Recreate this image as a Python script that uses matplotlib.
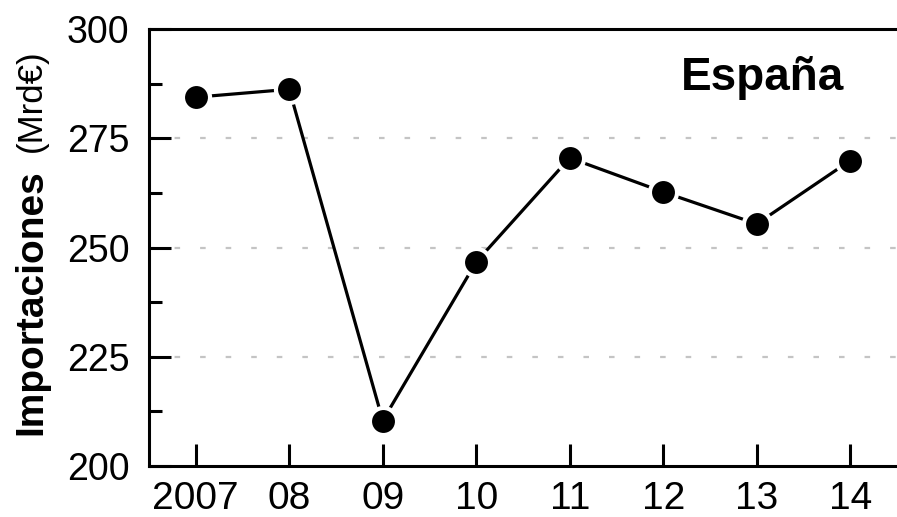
import matplotlib
matplotlib.use("Agg")
import matplotlib.pyplot as plt
from matplotlib.ticker import MultipleLocator

plt.rcParams['font.family'] = ['Liberation Sans', 'DejaVu Sans']

# data
years = ["2007", "08", "09", "10", "11", "12", "13", "14"]
imports = [284.4, 286.2, 210.4, 246.7, 270.5, 262.7, 255.4, 269.9]
grid_levels = [225, 250, 275]

fig = plt.figure(figsize=(8.97, 5.17), dpi=100)
ax = fig.add_axes([149 / 897, 1 - 466 / 517, 1 - 149 / 897, (466 - 29) / 517])

x = list(range(len(years)))
for g in grid_levels:
    ax.axhline(g, color='#c4c4c4', linewidth=1.6, linestyle=(0, (2.5, 9)), zorder=1)

ax.plot(x, imports, color='black', linewidth=2.3, zorder=2)
ax.plot(x, imports, linestyle='none', marker='o', markersize=19.5,
        markerfacecolor='black', markeredgecolor='white', markeredgewidth=3,
        zorder=3)

ax.set_xlim(-0.5, 7.5)
ax.set_ylim(200, 300)
ax.set_xticks(x)
ax.set_xticklabels(years)
ax.yaxis.set_major_locator(MultipleLocator(25))
ax.yaxis.set_minor_locator(MultipleLocator(12.5))

ax.spines['right'].set_visible(False)
for s in ['left', 'top', 'bottom']:
    ax.spines[s].set_linewidth(2.2)

ax.tick_params(axis='x', which='major', direction='in', length=16, width=2.2,
               labelsize=28, pad=11)
ax.tick_params(axis='y', which='major', direction='in', length=16, width=2.2,
               labelsize=27, pad=14)
ax.tick_params(axis='y', which='minor', direction='in', length=9, width=2.2)

fig.text(763 / 897, 1 - 90 / 517, "España", fontsize=33, fontweight='bold',
         ha='center', va='baseline')

fig.text(41 / 897, 1 - 302 / 517, "Importaciones", fontsize=28, fontweight='bold',
         rotation=90, rotation_mode='anchor', ha='center', va='baseline')
fig.text(41 / 897, 1 - 101 / 517, "(Mrd€)", fontsize=25,
         rotation=90, rotation_mode='anchor', ha='center', va='baseline')

fig.savefig("out.png", dpi=100)
